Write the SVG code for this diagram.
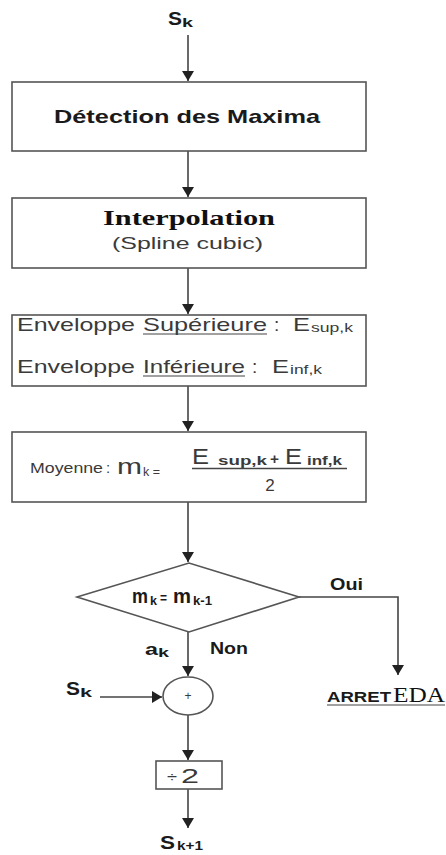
<svg xmlns="http://www.w3.org/2000/svg" width="446" height="855" viewBox="0 0 446 855">
<style>
.box{fill:#fff;stroke:#555;stroke-width:1.6}
.ln{stroke:#444;stroke-width:1.6;fill:none}
.sb{font-family:"Liberation Sans",Arial,sans-serif;font-weight:bold;fill:#1a1a1a}
.sr{font-family:"Liberation Sans",Arial,sans-serif;fill:#3a3a3a}
.tb{font-family:"Liberation Serif","Times New Roman",serif;font-weight:bold;fill:#111}
.tr{font-family:"Liberation Serif","Times New Roman",serif;fill:#111}
.ul{stroke:#444;stroke-width:1.2}
</style>
<defs>
<marker id="ah" viewBox="0 0 10 12" refX="10" refY="6" markerWidth="10" markerHeight="12" markerUnits="userSpaceOnUse" orient="auto">
<path d="M0,0 L10,6 L0,12 z" fill="#222"/>
</marker>
</defs>
<rect width="446" height="855" fill="#fff"/>

<g id="connectors">
<path class="ln" d="M188,35 V81" marker-end="url(#ah)"/>
<path class="ln" d="M188,151 V197" marker-end="url(#ah)"/>
<path class="ln" d="M188,268 V314" marker-end="url(#ah)"/>
<path class="ln" d="M188,386 V431" marker-end="url(#ah)"/>
<path class="ln" d="M188,502 V562" marker-end="url(#ah)"/>
<path class="ln" d="M299,597 H398 V675" marker-end="url(#ah)"/>
<path class="ln" d="M188,632 V676" marker-end="url(#ah)"/>
<path class="ln" d="M100,697 H162" marker-end="url(#ah)"/>
<path class="ln" d="M188,715 V760" marker-end="url(#ah)"/>
<path class="ln" d="M188,789 V828" marker-end="url(#ah)"/>
</g>

<g id="input">
<text class="sb" x="168" y="25" font-size="19" textLength="14" lengthAdjust="spacingAndGlyphs">S</text>
<text class="sb" x="182" y="27" font-size="13" textLength="11" lengthAdjust="spacingAndGlyphs">k</text>
</g>

<g id="detection">
<rect class="box" x="12" y="82" width="354" height="69"/>
<text class="sb" x="54" y="123" font-size="19" textLength="266" lengthAdjust="spacingAndGlyphs">Détection des Maxima</text>
</g>

<g id="interpolation">
<rect class="box" x="12" y="198" width="354" height="70"/>
<text class="tb" x="103" y="225" font-size="22" textLength="172" lengthAdjust="spacingAndGlyphs">Interpolation</text>
<text class="sr" x="112" y="249" font-size="17" textLength="151" lengthAdjust="spacingAndGlyphs">(Spline cubic)</text>
</g>

<g id="enveloppes">
<rect class="box" x="12" y="315" width="354" height="71"/>
<text class="sr" x="17" y="331" font-size="19" textLength="118" lengthAdjust="spacingAndGlyphs">Enveloppe</text>
<text class="sr" x="143" y="331" font-size="19" textLength="124" lengthAdjust="spacingAndGlyphs">Supérieure</text>
<line class="ul" x1="143" y1="334" x2="267" y2="334"/>
<text class="sr" x="274" y="331" font-size="19">:</text>
<text class="sr" x="293" y="331" font-size="19" textLength="17" lengthAdjust="spacingAndGlyphs">E</text>
<text class="sr" x="311" y="332" font-size="13" textLength="42" lengthAdjust="spacingAndGlyphs">sup,k</text>
<text class="sr" x="17" y="373" font-size="19" textLength="118" lengthAdjust="spacingAndGlyphs">Enveloppe</text>
<text class="sr" x="143" y="373" font-size="19" textLength="102" lengthAdjust="spacingAndGlyphs">Inférieure</text>
<line class="ul" x1="143" y1="376" x2="245" y2="376"/>
<text class="sr" x="252" y="373" font-size="19">:</text>
<text class="sr" x="272" y="373" font-size="19" textLength="17" lengthAdjust="spacingAndGlyphs">E</text>
<text class="sr" x="290" y="374" font-size="13" textLength="32" lengthAdjust="spacingAndGlyphs">inf,k</text>
</g>

<g id="moyenne">
<rect class="box" x="12" y="432" width="354" height="70"/>
<text class="sr" x="30" y="473" font-size="15" textLength="73" lengthAdjust="spacingAndGlyphs">Moyenne</text>
<text class="sr" x="106" y="473" font-size="15">:</text>
<text class="sr" x="117" y="474" font-size="22" textLength="25" lengthAdjust="spacingAndGlyphs">m</text>
<text class="sr" x="143" y="476" font-size="12" textLength="17" lengthAdjust="spacingAndGlyphs">k =</text>
<text class="sr" x="192" y="464" font-size="22" textLength="17" lengthAdjust="spacingAndGlyphs">E</text>
<text class="sr" x="218" y="465" font-size="13" font-weight="bold" textLength="49" lengthAdjust="spacingAndGlyphs">sup,k</text>
<text class="sr" x="270" y="464" font-size="15" font-weight="bold" textLength="9" lengthAdjust="spacingAndGlyphs">+</text>
<text class="sr" x="285" y="464" font-size="22" textLength="17" lengthAdjust="spacingAndGlyphs">E</text>
<text class="sr" x="307" y="465" font-size="13" font-weight="bold" textLength="35" lengthAdjust="spacingAndGlyphs">inf,k</text>
<line x1="192" y1="468.5" x2="347" y2="468.5" stroke="#444" stroke-width="1.4"/>
<text class="sr" x="270" y="491" font-size="17" text-anchor="middle">2</text>
</g>

<g id="decision">
<polygon class="box" points="77,597 189,563 299,597 189,632"/>
<text class="sb" x="132" y="603" font-size="20" textLength="16" lengthAdjust="spacingAndGlyphs">m</text>
<text class="sb" x="150" y="605" font-size="12" textLength="7" lengthAdjust="spacingAndGlyphs">k</text>
<text class="sb" x="160" y="603" font-size="15" textLength="7" lengthAdjust="spacingAndGlyphs">=</text>
<text class="sb" x="173" y="603" font-size="20" textLength="18" lengthAdjust="spacingAndGlyphs">m</text>
<text class="sb" x="193" y="605" font-size="12" textLength="19" lengthAdjust="spacingAndGlyphs">k-1</text>
<text class="sb" x="330" y="590" font-size="16" textLength="33" lengthAdjust="spacingAndGlyphs">Oui</text>
<text class="sb" x="145" y="655" font-size="17" textLength="13" lengthAdjust="spacingAndGlyphs">a</text>
<text class="sb" x="158" y="657" font-size="12" textLength="11" lengthAdjust="spacingAndGlyphs">k</text>
<text class="sb" x="210" y="654" font-size="16" textLength="38" lengthAdjust="spacingAndGlyphs">Non</text>
</g>

<g id="arret">
<text class="sb" x="327" y="702" font-size="15" textLength="64" lengthAdjust="spacingAndGlyphs" fill="#333">ARRET</text>
<text class="tr" x="393" y="702" font-size="22" textLength="52" lengthAdjust="spacingAndGlyphs">EDA</text>
<line class="ul" x1="327" y1="705" x2="445" y2="705"/>
</g>

<g id="sk-left">
<text class="sb" x="66" y="695" font-size="19" textLength="14" lengthAdjust="spacingAndGlyphs">S</text>
<text class="sb" x="80" y="697" font-size="13" textLength="12" lengthAdjust="spacingAndGlyphs">k</text>
</g>

<g id="sum">
<ellipse class="box" cx="188" cy="696" rx="25" ry="19"/>
<text class="sr" x="188" y="700" font-size="12" text-anchor="middle">+</text>
</g>

<g id="div2">
<rect class="box" x="156" y="761" width="66" height="28"/>
<text class="sr" x="167" y="782" font-size="15" textLength="10" lengthAdjust="spacingAndGlyphs">÷</text>
<text class="sr" x="181" y="783" font-size="21" textLength="18" lengthAdjust="spacingAndGlyphs">2</text>
</g>

<g id="output">
<text class="sb" x="160" y="849" font-size="19" textLength="15" lengthAdjust="spacingAndGlyphs">S</text>
<text class="sb" x="177" y="850" font-size="13" textLength="26" lengthAdjust="spacingAndGlyphs">k+1</text>
</g>
</svg>
